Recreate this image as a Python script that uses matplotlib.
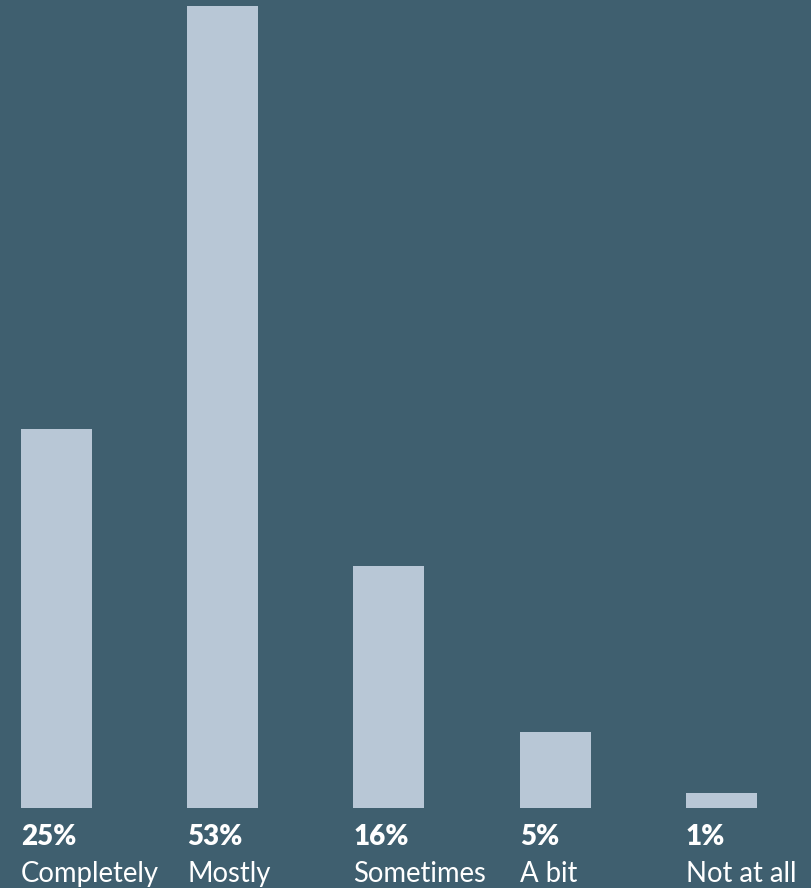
from matplotlib import pyplot as plt
import numpy as np

plt.rcParams['font.family'] = ['Lato', 'DejaVu Sans']

categories = ['Completely', 'Mostly', 'Sometimes', 'A bit', 'Not at all']
shares = [25, 53, 16, 5, 1]

bg = '#3f5f6f'
barc = '#b8c7d6'

fig = plt.figure(figsize=(8.11, 8.88), dpi=100, facecolor=bg)
ax = fig.add_axes([0, 80.3/888, 1, 807.7/888])
ax.set_facecolor(bg)

step = 166.25
x = np.arange(len(categories))
ax.bar(x, shares, width=71/step, align='edge', color=barc)
ax.set_xlim(-21/step, 790/step)
ax.set_ylim(0, 807.7/15.13)
ax.axis('off')

for i in range(len(categories)):
    ax.annotate(f'{shares[i]}%', xy=(x[i], 0), xycoords=('data', 'axes fraction'),
                xytext=(0, -37.3), textcoords='offset pixels',
                ha='left', va='baseline', color='white', fontsize=20, fontweight='heavy')
    ax.annotate(categories[i], xy=(x[i], 0), xycoords=('data', 'axes fraction'),
                xytext=(0, -74.3), textcoords='offset pixels',
                ha='left', va='baseline', color='white', fontsize=19.8, fontweight='normal')

plt.savefig('out.png', dpi=100, facecolor=bg)
